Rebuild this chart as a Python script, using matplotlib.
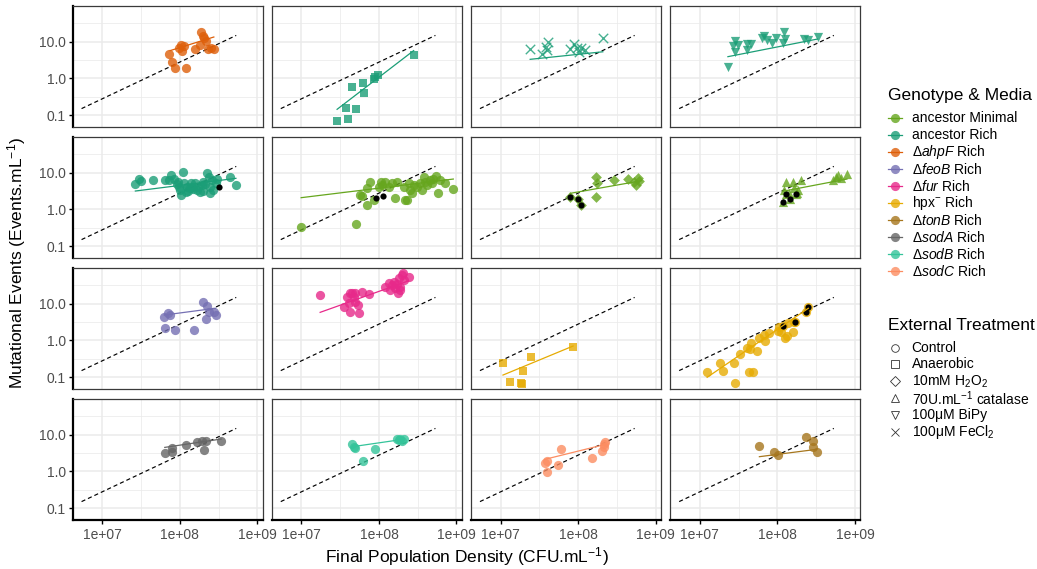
import matplotlib
matplotlib.use("Agg")
import matplotlib.pyplot as plt
from matplotlib.lines import Line2D
import numpy as np

plt.rcParams['font.family'] = ['Liberation Sans', 'DejaVu Sans']
plt.rcParams['mathtext.fontset'] = 'custom'
plt.rcParams['mathtext.rm'] = 'Liberation Sans'
plt.rcParams['mathtext.it'] = 'Liberation Sans:italic'

# ---- data (CFU/mL, events/mL) ----
# row 1
ahpf_x = [7.2e7, 8.0e7, 8.7e7, 1.22e8, 9.9e7, 1.04e8, 1.07e8, 1.14e8, 1.58e8, 1.85e8, 1.86e8, 2.0e8, 2.08e8, 2.19e8, 2.3e8, 2.54e8, 2.75e8]
ahpf_y = [4.7, 2.8, 1.95, 1.95, 6.9, 7.9, 5.6, 7.8, 6.2, 8.3, 18, 14.6, 12.9, 10.4, 6.3, 6.9, 6.2]
anc_anaer_x = [2.88e7, 3.76e7, 3.99e7, 4.54e7, 5.0e7, 6.2e7, 6.4e7, 8.5e7, 8.97e7, 9.6e7, 2.8e8]
anc_anaer_y = [0.067, 0.152, 0.078, 0.58, 0.146, 0.73, 0.41, 0.94, 1.06, 1.26, 4.3]
fecl2_x = [2.4e7, 3.46e7, 3.8e7, 4.1e7, 4.0e7, 7.9e7, 8.7e7, 9.6e7, 1.03e8, 1.1e8, 1.23e8, 2.08e8]
fecl2_y = [6.3, 4.5, 7.3, 9.6, 5.9, 6.2, 8.6, 6.9, 5.3, 6.9, 5.9, 12.3]
bipy_x = [2.3e7, 2.8e7, 2.66e7, 2.85e7, 3.08e7, 4.0e7, 4.5e7, 4.0e7, 6.3e7, 6.8e7, 7.4e7, 8.5e7, 9.7e7, 1.17e8, 1.23e8, 1.26e8, 2.23e8, 2.46e8, 3.3e8]
bipy_y = [2.08, 10.6, 7.6, 5.3, 8.1, 8.5, 8.5, 5.9, 12.9, 14.6, 11.1, 9.0, 12.9, 9.4, 18.7, 11.8, 11.6, 10.9, 13.1]

# row 2
anc_rich_x = [2.67e7, 3.0e7, 3.16e7, 4.57e7, 6.5e7, 7.3e7, 7.7e7, 8.3e7, 9.6e7, 9.9e7, 1.01e8, 1.05e8,
              1.09e8, 1.14e8, 1.23e8, 1.29e8, 1.39e8, 1.5e8, 1.58e8, 1.66e8, 1.74e8, 1.92e8, 1.98e8, 2.02e8,
              2.23e8, 2.35e8, 2.42e8, 2.47e8, 2.6e8, 2.72e8, 2.89e8, 3.0e8, 4.5e8, 5.3e8, 9.1e7, 1.43e8,
              1.2e8, 1.8e8, 2.1e8, 1.35e8]
anc_rich_y = [4.8, 6.7, 6.05, 6.3, 6.2, 6.3, 8.6, 6.6, 5.7, 4.15, 3.37, 2.46,
              10.2, 5.1, 4.15, 3.23, 5.1, 3.5, 5.1, 3.37, 4.15, 4.6, 5.7, 3.23,
              10.0, 7.8, 4.15, 2.73, 6.3, 3.37, 5.3, 6.6, 7.5, 4.7, 4.9, 4.15,
              2.9, 3.0, 4.8, 3.8]
anc_rich_black_x = [3.16e8]
anc_rich_black_y = [4.15]
anc_min_x = [9.9e6, 5.1e7, 5.75e7, 6.0e7, 6.9e7, 7.1e7, 7.6e7, 8.5e7, 9.9e7, 1.06e8, 1.09e8, 1.21e8,
             1.33e8, 1.47e8, 1.62e8, 1.71e8, 2.08e8, 2.18e8, 2.3e8, 2.41e8, 2.53e8, 2.66e8, 2.79e8,
             3.08e8, 3.34e8, 3.58e8, 3.76e8, 3.95e8, 4.15e8, 4.58e8, 4.81e8, 5.05e8, 5.47e8, 5.75e8,
             6.17e8, 7.1e8, 9.1e8]
anc_min_y = [0.32, 0.40, 2.46, 2.31, 1.31, 3.74, 5.7, 1.8, 4.15, 5.7, 4.6, 5.7,
             4.15, 5.1, 2.0, 5.7, 4.15, 1.8, 1.8, 5.3, 3.37, 2.73, 4.6,
             4.15, 5.1, 3.37, 7.8, 5.7, 4.6, 6.3, 5.1, 6.6, 8.1, 2.73,
             6.3, 5.1, 3.5]
anc_min_black_x = [9.2e7, 1.13e8]
anc_min_black_y = [2.0, 2.31]
h2o2_x = [7.9e7, 9.8e7, 1.08e8, 1.69e8, 1.74e8, 1.69e8, 2.92e8, 4.35e8, 5.3e8, 5.6e8, 5.85e8, 6.15e8]
h2o2_y = [2.12, 1.87, 1.31, 7.5, 5.1, 2.21, 6.3, 6.6, 5.7, 4.6, 7.0, 6.05]
h2o2_black_x = [7.9e7, 9.8e7, 1.08e8]
h2o2_black_y = [2.12, 1.87, 1.31]
cat_x = [1.17e8, 1.29e8, 1.23e8, 1.43e8, 1.57e8, 1.66e8, 1.79e8, 1.83e8, 2.02e8, 5.15e8, 5.7e8, 5.98e8, 6.6e8, 7.9e8, 1.28e8, 1.46e8, 1.74e8]
cat_y = [1.62, 5.7, 3.37, 2.73, 5.7, 3.74, 2.73, 3.37, 6.3, 6.3, 7.8, 8.6, 7.0, 9.0, 2.62, 1.87, 2.62]
cat_black_x = [1.17e8, 1.28e8, 1.46e8, 1.74e8]
cat_black_y = [1.55, 2.62, 1.87, 2.62]

# row 3
feob_x = [6.3e7, 7.1e7, 7.5e7, 6.45e7, 8.8e7, 1.52e8, 2.02e8, 2.23e8, 2.35e8, 2.19e8, 2.8e8, 2.89e8]
feob_y = [4.4, 5.45, 4.9, 2.17, 1.87, 1.87, 11.3, 8.6, 6.05, 3.82, 5.8, 4.9]
fur_x = [1.74e7, 3.5e7, 3.87e7, 4.07e7, 4.2e7, 4.27e7, 4.49e7, 4.72e7, 4.96e7, 5.37e7, 5.47e7, 4.96e7,
         6.04e7, 7.36e7, 1.21e8, 1.33e8, 1.4e8, 1.47e8, 1.55e8, 1.62e8, 1.71e8, 1.76e8, 1.79e8,
         1.88e8, 1.98e8, 2.04e8, 2.08e8, 2.41e8, 1.88e8]
fur_y = [17.6, 8.3, 14.9, 10.2, 6.05, 19.1, 20, 15.5, 11.3, 9.2, 5.7, 19.1,
         20.4, 18.4, 29, 37, 23.6, 32, 40, 26, 34, 19.1, 49,
         29, 60, 70, 44, 54, 23]
hpx_anaer_x = [1.07e7, 1.32e7, 1.82e7, 1.87e7, 1.96e7, 2.46e7, 8.6e7]
hpx_anaer_y = [0.236, 0.073, 0.067, 0.064, 0.149, 0.359, 0.66]
hpx_x = [1.24e7, 1.81e7, 2.0e7, 2.79e7, 2.88e7, 3.34e7, 4.03e7, 4.36e7, 4.81e7, 4.58e7, 4.49e7, 5.47e7,
         5.86e7, 6.8e7, 7.0e7, 7.9e7, 1.01e8, 1.06e8, 1.11e8, 1.26e8, 1.33e8, 1.57e8, 1.66e8, 1.36e8,
         1.17e8, 1.71e8, 2.34e8, 2.51e8]
hpx_y = [0.14, 0.246, 0.149, 0.246, 0.07, 0.424, 0.605, 0.14, 0.134, 0.863, 0.569, 0.523,
         1.13, 1.4, 0.96, 1.55, 1.84, 2.36, 1.72, 1.13, 1.31, 1.65, 3.23, 2.91,
         2.46, 3.23, 6.05, 8.3]
hpx_black_x = [1.17e8, 1.71e8, 2.34e8, 2.51e8]
hpx_black_y = [2.46, 3.23, 6.05, 8.3]

# row 4
soda_x = [6.4e7, 8.0e7, 8.0e7, 1.22e8, 1.66e8, 1.92e8, 2.17e8, 2.08e8, 3.42e8]
soda_y = [3.1, 4.24, 3.3, 5.1, 6.4, 6.9, 6.9, 3.74, 6.9]
sodb_x = [4.54e7, 4.72e7, 4.96e7, 6.2e7, 8.98e7, 1.71e8, 1.79e8, 1.88e8, 2.08e8, 1.98e8]
sodb_y = [5.6, 4.7, 4.24, 1.91, 3.98, 7.5, 7.2, 7.5, 7.8, 6.9]
sodc_x = [3.7e7, 3.94e7, 4.0e7, 5.5e7, 5.97e7, 1.5e8, 2.0e8, 2.13e8, 2.17e8, 2.25e8]
sodc_y = [1.72, 1.95, 0.98, 1.49, 4.06, 2.26, 3.59, 4.5, 5.45, 6.45]
tonb_x = [5.86e7, 9.1e7, 1.03e8, 2.34e8, 2.85e8, 2.85e8, 3.21e8]
tonb_y = [4.9, 3.44, 2.79, 8.8, 6.7, 4.7, 3.37]

# fitted lines per panel (row-major), endpoints
fit_x_start = [7.5e7, 2.88e7, 2.4e7, 2.3e7, 2.67e7, 9.9e6, 7.9e7, 1.17e8, 6.3e7, 1.74e7, 1.07e7, 1.24e7, 6.4e7, 4.54e7, 3.7e7, 5.86e7]
fit_x_end = [2.75e8, 2.8e8, 2.08e8, 3.3e8, 5.3e8, 9.1e8, 6.6e8, 7.9e8, 2.89e8, 2.41e8, 8.6e7, 2.51e8, 3.42e8, 2.08e8, 2.25e8, 3.21e8]
fit_y_start = [5.7, 0.143, 3.3, 3.9, 3.16, 2.08, 2.73, 3.1, 4.9, 5.8, 0.113, 0.098, 4.5, 4.7, 2.12, 2.51]
fit_y_end = [13.4, 5.7, 5.3, 11.8, 7.0, 6.7, 6.05, 6.7, 7.5, 42, 0.70, 7.5, 7.6, 7.5, 5.45, 3.98]

# reference line: events = rate * density
ref_rate = 2.77e-8
ref_x = [5.4e6, 5.35e8]

genotype_labels = ['ancestor Minimal', 'ancestor Rich', r'Δ$\mathit{ahpF}$ Rich', r'Δ$\mathit{feoB}$ Rich',
                   r'Δ$\mathit{fur}$ Rich', r'hpx$^{-}$ Rich', r'Δ$\mathit{tonB}$ Rich', r'Δ$\mathit{sodA}$ Rich',
                   r'Δ$\mathit{sodB}$ Rich', r'Δ$\mathit{sodC}$ Rich']
genotype_colors = ['#66A61E', '#1B9E77', '#DE5F0A', '#7570B3', '#E7298A',
                   '#E6AB02', '#A6761D', '#666666', '#34C49A', '#FC8D62']
treatment_labels = ['Control', 'Anaerobic', r'10mM H$_2$O$_2$', r'70U.mL$^{-1}$ catalase',
                    '100μM BiPy', r'100μM FeCl$_2$']
treatment_markers = ['o', 's', 'D', '^', 'v', 'x']

col = dict(zip(['min', 'rich', 'ahpf', 'feob', 'fur', 'hpx', 'tonb', 'soda', 'sodb', 'sodc'], genotype_colors))

panels = [
    (ahpf_x, ahpf_y, 'o', col['ahpf'], None, None),
    (anc_anaer_x, anc_anaer_y, 's', col['rich'], None, None),
    (fecl2_x, fecl2_y, 'x', col['rich'], None, None),
    (bipy_x, bipy_y, 'v', col['rich'], None, None),
    (anc_rich_x, anc_rich_y, 'o', col['rich'], anc_rich_black_x, anc_rich_black_y),
    (anc_min_x, anc_min_y, 'o', col['min'], anc_min_black_x, anc_min_black_y),
    (h2o2_x, h2o2_y, 'D', col['min'], h2o2_black_x, h2o2_black_y),
    (cat_x, cat_y, '^', col['min'], cat_black_x, cat_black_y),
    (feob_x, feob_y, 'o', col['feob'], None, None),
    (fur_x, fur_y, 'o', col['fur'], None, None),
    (hpx_anaer_x, hpx_anaer_y, 's', col['hpx'], None, None),
    (hpx_x, hpx_y, 'o', col['hpx'], hpx_black_x, hpx_black_y),
    (soda_x, soda_y, 'o', col['soda'], None, None),
    (sodb_x, sodb_y, 'o', col['sodb'], None, None),
    (sodc_x, sodc_y, 'o', col['sodc'], None, None),
    (tonb_x, tonb_y, 'o', col['tonb'], None, None),
]
marker_size = {'o': 44, 's': 36, 'D': 30, '^': 44, 'v': 44, 'x': 46}

W, H = 1037, 569
fig = plt.figure(figsize=(W / 100, H / 100), dpi=100)
axes = fig.subplots(4, 4, sharex=True, sharey=True)
fig.subplots_adjust(left=72.7 / W, right=860.3 / W, bottom=1 - 520 / H, top=1 - 5.7 / H,
                    wspace=0.0484, hspace=0.08)

ref_x = np.array(ref_x)
for i, ax in enumerate(axes.flat):
    x, y, mk, c, bx, by = panels[i]
    r, cidx = divmod(i, 4)
    ax.set_xscale('log')
    ax.set_yscale('log')
    ax.plot(ref_x, ref_rate * ref_x, color='black', lw=0.85, dashes=(3.5, 2.5), zorder=3)
    if mk == 'x':
        ax.scatter(x, y, marker='x', s=marker_size[mk], color=c, alpha=0.8, linewidths=1.0, zorder=4)
    else:
        ax.scatter(x, y, marker=mk, s=marker_size[mk], color=c, alpha=0.8, linewidths=0, zorder=4)
    if bx is not None:
        ax.scatter(bx, by, marker='o', s=20, color='black', linewidths=0, zorder=5)
    ax.plot([fit_x_start[i], fit_x_end[i]], [fit_y_start[i], fit_y_end[i]], color=c, lw=0.9, zorder=6)

    ax.set_xlim(10 ** 6.618, 10 ** 9.07)
    ax.set_ylim(10 ** -1.327, 10 ** 1.981)
    ax.set_xticks([1e7, 1e8, 1e9], ['1e+07', '1e+08', '1e+09'])
    ax.set_yticks([0.1, 1, 10], ['0.1', '1.0', '10.0'])
    ax.set_xticks([10 ** 7.5, 10 ** 8.5], minor=True)
    ax.set_yticks([10 ** -0.5, 10 ** 0.5, 10 ** 1.5], minor=True)
    ax.set_xticklabels([], minor=True)
    ax.set_yticklabels([], minor=True)
    ax.grid(which='major', color='#EBEBEB', lw=1.1)
    ax.grid(which='minor', color='#EBEBEB', lw=0.55)
    ax.set_axisbelow(True)
    ax.tick_params(which='both', length=0, labelsize=10, labelcolor='#4D4D4D', pad=3)
    for s in ax.spines.values():
        s.set_color('#3A3A3A')
        s.set_linewidth(0.9)
    if cidx == 0:
        ax.spines['left'].set_color('black')
        ax.spines['left'].set_linewidth(1.6)
        ax.tick_params(axis='y', which='major', length=3, width=1, color='black', pad=2)
    if r == 3:
        ax.spines['bottom'].set_color('black')
        ax.spines['bottom'].set_linewidth(1.6)
        ax.tick_params(axis='x', which='major', length=3, width=1, color='black', pad=3)

fig.text(466.5 / W, 1 - 557 / H, r'Final Population Density (CFU.mL$^{-1}$)', ha='center', va='center', fontsize=12.5)
fig.text(17 / W, 1 - 263 / H, r'Mutational Events (Events.mL$^{-1}$)', ha='center', va='center',
         rotation=90, fontsize=12.5)

# legends, drawn by hand to sit like ggplot's guides
def fx(px):
    return px / W

def fy(py):
    return 1 - py / H

fig.text(fx(887.5), fy(95.7), 'Genotype & Media', ha='left', va='center', fontsize=12.5)
for k, (lab, c) in enumerate(zip(genotype_labels, genotype_colors)):
    yy = 118.3 + 17 * k
    fig.add_artist(Line2D([fx(888), fx(902)], [fy(yy), fy(yy)], color=c, lw=0.9, transform=fig.transFigure))
    fig.add_artist(Line2D([fx(895)], [fy(yy)], marker='o', markersize=6.6, color=c, alpha=0.8, mew=0,
                          transform=fig.transFigure))
    fig.text(fx(911.7), fy(yy), lab, ha='left', va='center', fontsize=10)

fig.text(fx(887.5), fy(325), 'External Treatment', ha='left', va='center', fontsize=12.5)
for k, (lab, m) in enumerate(zip(treatment_labels, treatment_markers)):
    yy = 347.5 + 16.9 * k
    fig.add_artist(Line2D([fx(894.5)], [fy(yy)], marker=m, markersize=5.5, markerfacecolor='none',
                          markeredgecolor='#333333', mew=0.6, color='#333333', transform=fig.transFigure))
    fig.text(fx(911.7), fy(yy), lab, ha='left', va='center', fontsize=10)

fig.savefig('out.png', dpi=100)
